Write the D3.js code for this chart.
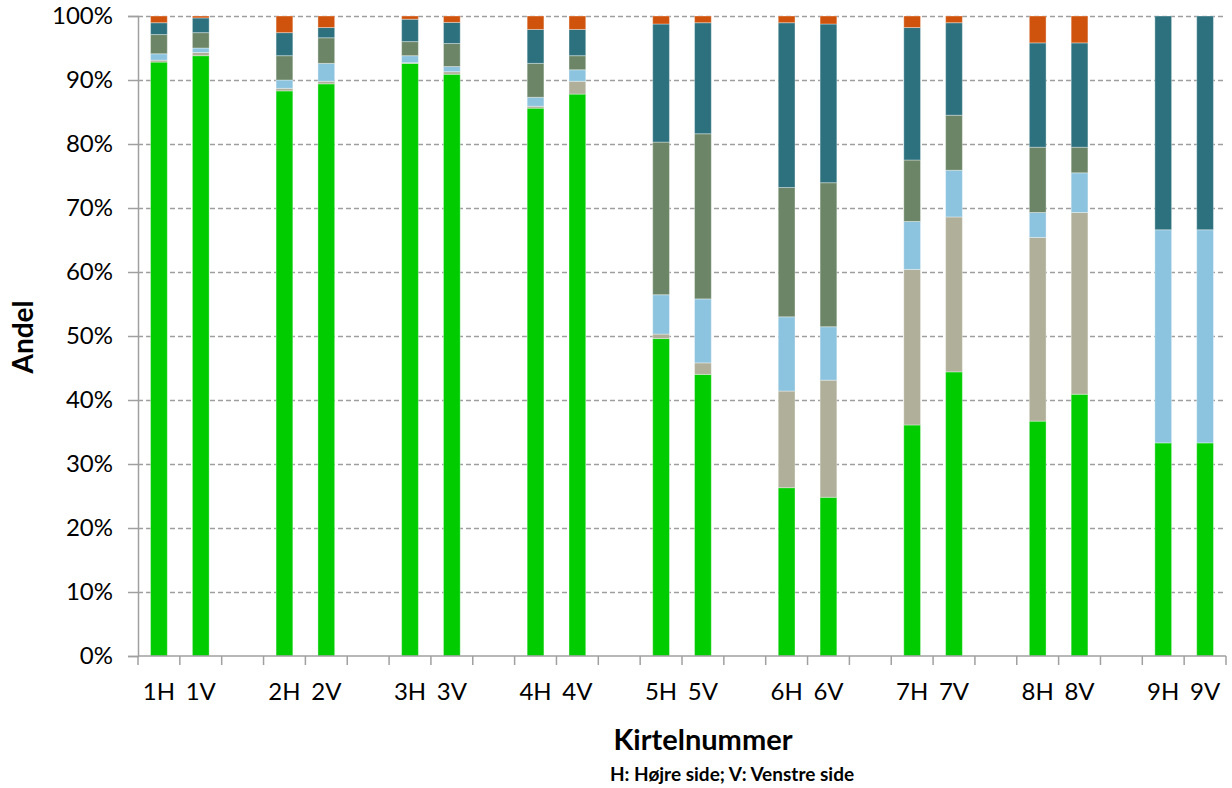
<!DOCTYPE html>
<html>
<head>
<meta charset="utf-8">
<script src="https://cdn.jsdelivr.net/npm/d3@7"></script>
<style>
    html, body { margin: 0; padding: 0; background: #ffffff; }
    svg { display: block; font-family: Lato, "Open Sans", sans-serif; }
</style>
</head>
<body>
<div id="chart"></div>
<script>
    // categories (H: hoyre side, V: venstre side)
    var categories = ["1H", "1V", "2H", "2V", "3H", "3V", "4H", "4V", "5H", "5V",
        "6H", "6V", "7H", "7V", "8H", "8V", "9H", "9V"];

    // series values in percent, bottom to top of each stack
    var greenValues = [92.8, 93.8, 88.3, 89.4, 92.6, 90.9, 85.6, 87.8, 49.6, 44.0, 26.3, 24.8, 36.1, 44.4, 36.7, 40.9, 33.3, 33.3];
    var tanValues = [0.3, 0.5, 0.4, 0.4, 0.1, 0.4, 0.3, 2.0, 0.7, 1.8, 15.1, 18.3, 24.3, 24.2, 28.7, 28.4, 0, 0];
    var lightBlueValues = [1.0, 0.7, 1.3, 2.8, 1.1, 0.8, 1.4, 1.8, 6.15, 10.0, 11.6, 8.35, 7.5, 7.3, 3.9, 6.2, 33.3, 33.3];
    var greyGreenValues = [3.0, 2.4, 3.8, 4.0, 2.2, 3.6, 5.3, 2.2, 23.85, 25.8, 20.2, 22.5, 9.6, 8.6, 10.2, 4.0, 0, 0];
    var tealValues = [1.85, 2.3, 3.6, 1.6, 3.5, 3.3, 5.3, 4.1, 18.45, 17.35, 25.75, 24.8, 20.7, 14.45, 16.3, 16.3, 33.4, 33.4];
    var orangeValues = [1.05, 0.3, 2.6, 1.8, 0.5, 1.0, 2.1, 2.1, 1.25, 1.05, 1.05, 1.25, 1.8, 1.05, 4.2, 4.2, 0, 0];

    var yTicks = [0, 0.1, 0.2, 0.3, 0.4, 0.5, 0.6, 0.7, 0.8, 0.9, 1];

    var seriesKeys = ["green", "tan", "lightBlue", "greyGreen", "teal", "orange"];
    var seriesValues = [greenValues, tanValues, lightBlueValues, greyGreenValues, tealValues, orangeValues];
    var colors = {
        green: "#00cc00",
        tan: "#b0af99",
        lightBlue: "#8cc3de",
        greyGreen: "#6b8566",
        teal: "#2d717f",
        orange: "#d0530d"
    };

    var width = 1232, height = 788;
    var margin = {top: 16, right: 6, bottom: 132, left: 138};
    var innerW = width - margin.left - margin.right;
    var innerH = height - margin.top - margin.bottom;

    // slots: each pair of bars followed by an empty slot (not after the last)
    var slots = [];
    categories.forEach(function (c, i) {
        slots.push(c);
        if (i % 2 === 1 && i < categories.length - 1) {
            slots.push("gap" + i);
        }
    });

    var rows = categories.map(function (c, i) {
        var row = {category: c};
        seriesKeys.forEach(function (k, j) {
            row[k] = seriesValues[j][i];
        });
        return row;
    });

    var stacked = d3.stack()
        .keys(seriesKeys)
        .offset(d3.stackOffsetExpand)(rows);

    var x = d3.scaleBand().domain(slots).range([0, innerW]).padding(0);
    var y = d3.scaleLinear().domain([0, 1]).range([innerH, 0]);
    var barW = x.bandwidth() * 0.4;

    var svg = d3.select("#chart").append("svg")
        .attr("width", width)
        .attr("height", height);

    var g = svg.append("g")
        .attr("transform", "translate(" + margin.left + "," + margin.top + ")");

    // dashed gridlines
    g.append("g").selectAll("line")
        .data(yTicks.filter(function (t) { return t > 0; }))
        .enter().append("line")
        .attr("x1", 0)
        .attr("x2", innerW)
        .attr("y1", function (d) { return Math.round(y(d)) + 0.5; })
        .attr("y2", function (d) { return Math.round(y(d)) + 0.5; })
        .attr("stroke", "#9e9e9e")
        .attr("stroke-width", 1.3)
        .attr("stroke-dasharray", "5,3");

    // stacked bars
    g.append("g").selectAll("g")
        .data(stacked)
        .enter().append("g")
        .attr("fill", function (d) { return colors[d.key]; })
        .selectAll("rect")
        .data(function (d) { return d; })
        .enter().append("rect")
        .attr("x", function (d) { return x(d.data.category) + (x.bandwidth() - barW) / 2; })
        .attr("width", barW)
        .attr("y", function (d) { return y(d[1]); })
        .attr("height", function (d) { return Math.max(0, y(d[0]) - y(d[1])); })
        .attr("stroke", "rgba(255,255,255,0.35)")
        .attr("stroke-width", 1);

    // y axis
    var yAxis = d3.axisLeft(y)
        .tickValues(yTicks)
        .tickSize(10)
        .tickPadding(15)
        .tickFormat(d3.format(".0%"));

    var yAxisG = g.append("g").call(yAxis);
    yAxisG.select(".domain").attr("stroke", "#a0a0a0").attr("stroke-width", 1.5);
    yAxisG.selectAll(".tick line").attr("stroke", "#a0a0a0").attr("stroke-width", 1.5);
    yAxisG.selectAll("text")
        .attr("font-family", "Lato, sans-serif")
        .attr("font-size", 24)
        .attr("fill", "#000");

    // x axis: line with ticks at slot boundaries
    var xAxisG = g.append("g").attr("transform", "translate(0," + innerH + ")");
    xAxisG.append("line")
        .attr("x1", 0).attr("x2", innerW)
        .attr("y1", 0).attr("y2", 0)
        .attr("stroke", "#a0a0a0")
        .attr("stroke-width", 1.5);

    var boundaries = slots.map(function (s) { return x(s); }).concat([innerW]);
    xAxisG.selectAll(".xtick")
        .data(boundaries)
        .enter().append("line")
        .attr("class", "xtick")
        .attr("x1", function (d) { return d; })
        .attr("x2", function (d) { return d; })
        .attr("y1", 0)
        .attr("y2", 9)
        .attr("stroke", "#a0a0a0")
        .attr("stroke-width", 1.5);

    xAxisG.selectAll(".xlabel")
        .data(categories)
        .enter().append("text")
        .attr("class", "xlabel")
        .attr("x", function (d) { return x(d) + x.bandwidth() / 2; })
        .attr("y", 44)
        .attr("text-anchor", "middle")
        .attr("font-size", 24)
        .attr("fill", "#000")
        .text(function (d) { return d; });

    // axis titles
    svg.append("text")
        .attr("transform", "translate(33,337) rotate(-90)")
        .attr("text-anchor", "middle")
        .attr("font-size", 28)
        .attr("font-weight", "bold")
        .attr("fill", "#000")
        .text("Andel");

    svg.append("text")
        .attr("x", 703)
        .attr("y", 750)
        .attr("text-anchor", "middle")
        .attr("font-size", 29)
        .attr("font-weight", "bold")
        .attr("fill", "#000")
        .text("Kirtelnummer");

    svg.append("text")
        .attr("x", 732)
        .attr("y", 781)
        .attr("text-anchor", "middle")
        .attr("font-size", 19)
        .attr("font-weight", "bold")
        .attr("fill", "#000")
        .text("H: Højre side; V: Venstre side");
</script>
</body>
</html>
